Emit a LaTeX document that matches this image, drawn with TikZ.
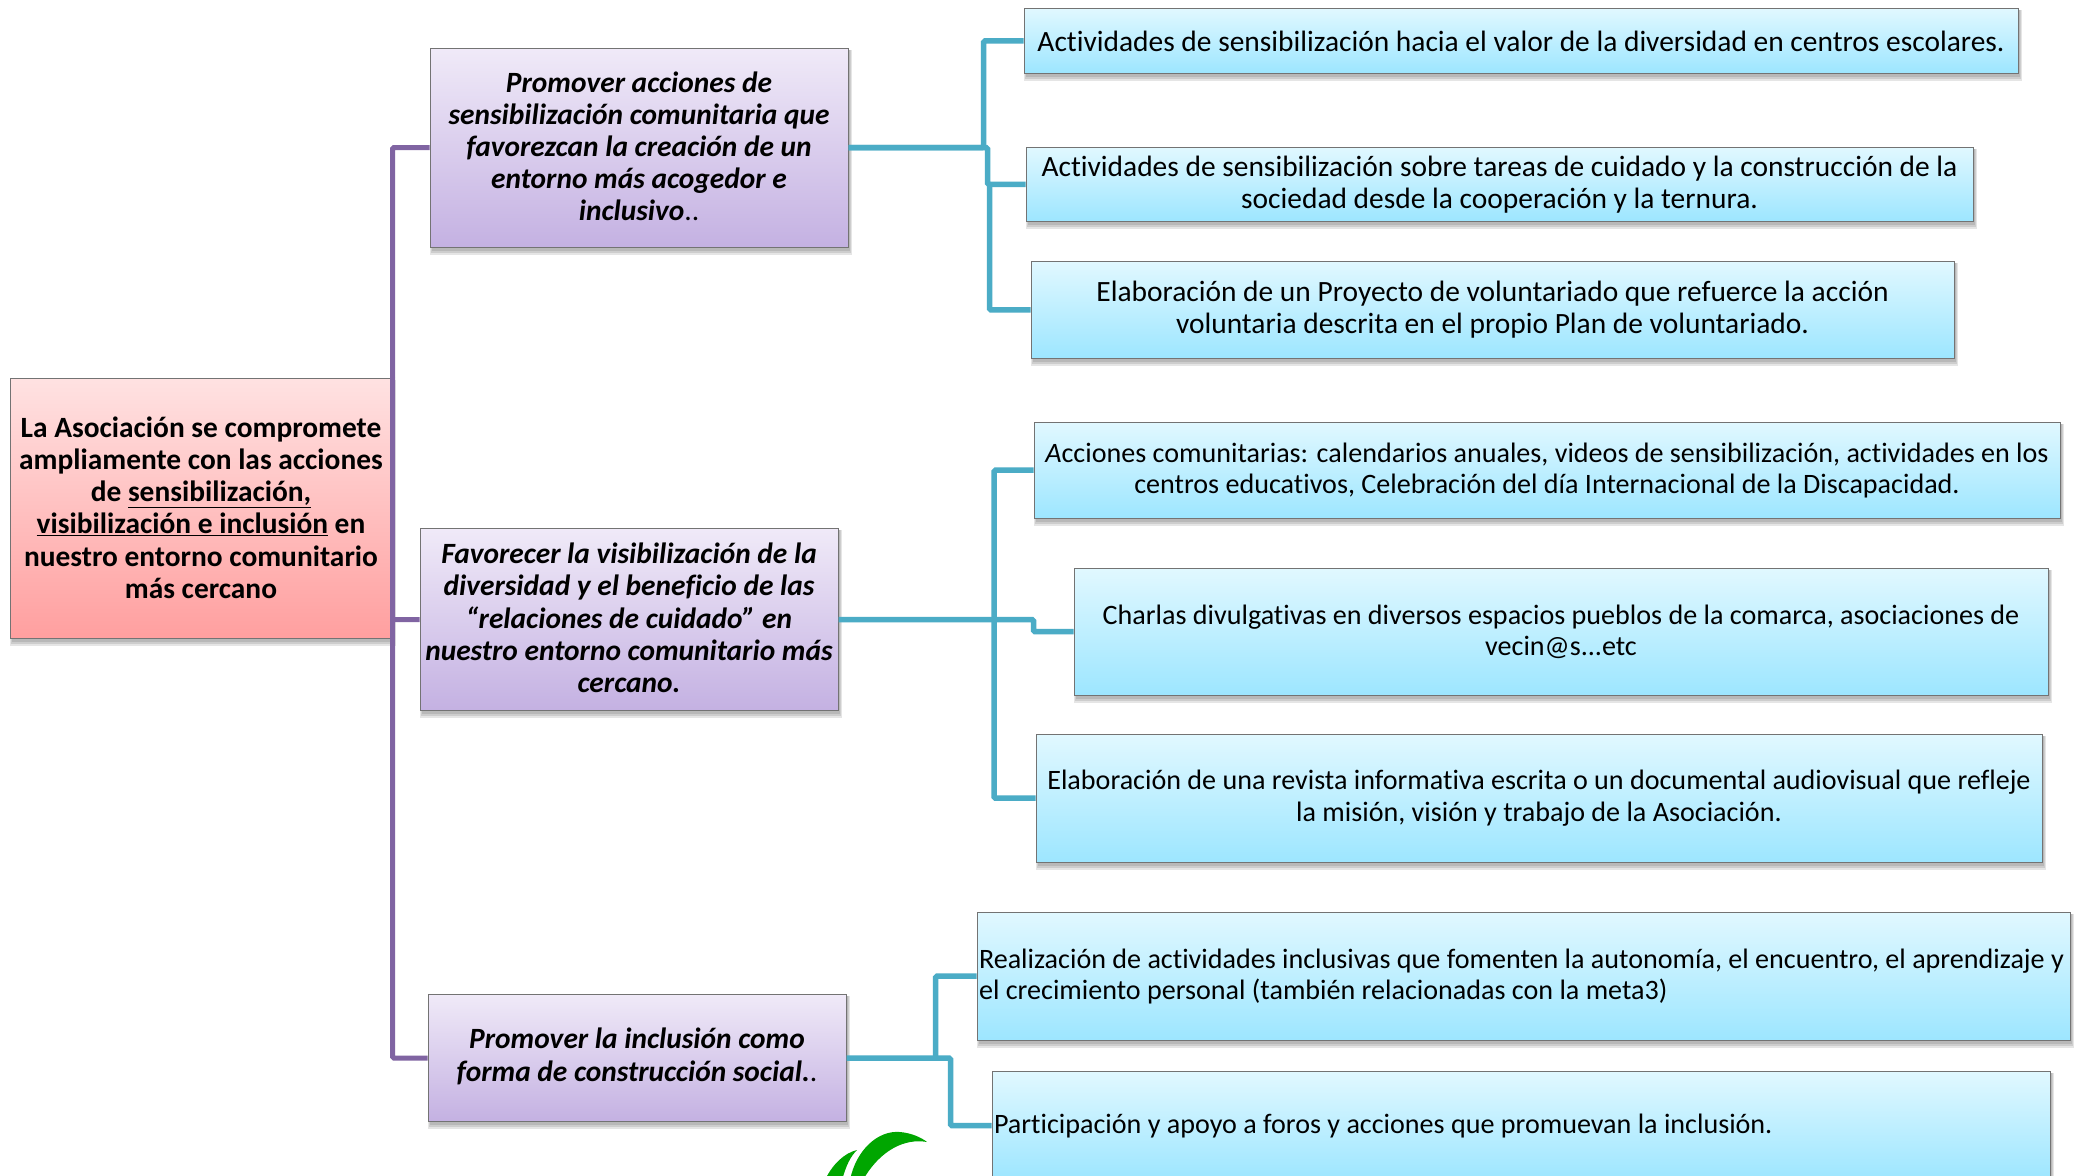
\documentclass[tikz,border=0pt]{standalone}
\usepackage{fontspec}
\setmainfont[Ligatures={NoCommon}]{Carlito}
\usetikzlibrary{calc}
\definecolor{purpleline}{HTML}{8064A2}
\definecolor{tealline}{HTML}{4BACC6}
\definecolor{roottop}{HTML}{FFE2E2}
\definecolor{rootbot}{HTML}{FF9F9F}
\definecolor{goaltop}{HTML}{F0EAF8}
\definecolor{goalbot}{HTML}{C4B1E2}
\definecolor{acttop}{HTML}{E1F8FF}
\definecolor{actbot}{HTML}{9DE6FF}
\tikzset{
  x=1pt,y=-1pt,
  boxbase/.style={rectangle,draw=black!55,line width=1pt,inner sep=0pt,text=black,align=center},
  rootbox/.style={boxbase,top color=roottop,bottom color=rootbot,font=\fontsize{29.4}{32.3}\selectfont\bfseries},
  goalbox/.style={boxbase,top color=goaltop,bottom color=goalbot,font=\fontsize{29.4}{32.2}\selectfont\bfseries\itshape},
  actbox/.style={boxbase,top color=acttop,bottom color=actbot,font=\fontsize{29.45}{32.4}\selectfont},
  actboxb/.style={actbox,font=\fontsize{28.1}{31.3}\selectfont},
  rootbox text/.style={yshift=0.4pt},
  goalbox text/.style={yshift=1.2pt},
  actbox text/.style={yshift=-0.4pt},
  actboxb text/.style={yshift=-0.2pt},
  purplelink/.style={draw=purpleline,line width=5pt,rounded corners=1.5pt},
  teallink/.style={draw=tealline,line width=5.5pt,rounded corners=1.5pt},
  shadowrect/.style={fill=black,opacity=.10,draw=none},
}
\newcommand{\mybox}[7]{% name, style, x1,y1,x2,y2, text
  \fill[shadowrect] (#3+0,#4+2) rectangle (#5+4,#6+8);
  \fill[shadowrect] (#3+1,#4+2) rectangle (#5+3,#6+6);
  \fill[shadowrect] (#3+2,#4+2) rectangle (#5+2,#6+4);
  \path[#2] (#3,#4) rectangle (#5,#6);
  \node[#2,draw=none,shade=false,fill=none,minimum width={(#5-#3)*1pt},minimum height={(#6-#4)*1pt},#2 text] (#1) at ({(#3+#5)/2},{(#4+#6)/2}) {#7};
}
\begin{document}
\begin{tikzpicture}
\useasboundingbox (0,0) rectangle (2087,1175);
\clip (0,0) rectangle (2087,1175);
\fill[white] (0,0) rectangle (2087,1175);
% logo
\fill[green!65!black] (850,1180) .. controls (856,1150) and (878,1130) .. (900,1132) .. controls (912,1133) and (922,1138) .. (927,1142) .. controls (905,1138) and (880,1150) .. (863,1180) -- cycle;
\fill[green!65!black] (825,1180) .. controls (832,1165) and (844,1153) .. (857,1150) .. controls (850,1157) and (846,1166) .. (842,1180) -- cycle;
% boxes
\mybox{root}{rootbox}{10}{378}{392}{638}{La Asociación se compromete\\ampliamente con las acciones\\de \underline{sensibilización,}\\\underline{visibilización e inclusión} en\\nuestro entorno comunitario\\más cercano}
\mybox{g1}{goalbox}{430}{48}{848}{247}{Promover acciones de\\sensibilización comunitaria que\\favorezcan la creación de un\\entorno más acogedor e\\inclusivo{\normalfont..}}
\mybox{g2}{goalbox}{420}{528}{838}{710}{Favorecer la visibilización de la\\diversidad y el beneficio de las\\“relaciones de cuidado” en\\nuestro entorno comunitario más\\cercano.}
\mybox{g3}{goalbox}{428}{994}{846}{1121}{Promover la inclusión como\\forma de construcción social.{\normalfont.}}
\mybox{a1}{actbox}{1024}{8}{2018}{73}{Actividades de sensibilización hacia el valor de la diversidad en centros escolares.}
\mybox{a2}{actbox}{1026}{147}{1973}{221}{Actividades de sensibilización sobre tareas de cuidado y la construcción de la\\sociedad desde la cooperación y la ternura.}
\mybox{a3}{actbox}{1031}{261}{1954}{358}{Elaboración de un Proyecto de voluntariado que refuerce la acción\\voluntaria descrita en el propio Plan de voluntariado.}
\mybox{a4}{actboxb}{1034}{422}{2060}{518}{\textit{A}cciones comunitarias: calendarios anuales, videos de sensibilización, actividades en los\\centros educativos, Celebración del día Internacional de la Discapacidad.}
\mybox{a5}{actboxb}{1074}{568}{2048}{695}{Charlas divulgativas en diversos espacios pueblos de la comarca, asociaciones de\\vecin@s...etc}
\mybox{a6}{actboxb}{1036}{734}{2042}{862}{Elaboración de una revista informativa escrita o un documental audiovisual que refleje\\la misión, visión y trabajo de la Asociación.}
\mybox{a7}{actboxb}{977}{912}{2070}{1040}{\makebox[1089pt][l]{Realización de actividades inclusivas que fomenten la autonomía, el encuentro, el aprendizaje y}\\\makebox[1089pt][l]{el crecimiento personal (también relacionadas con la meta3)}}
\mybox{a8}{actboxb}{992}{1071}{2050}{1180}{\makebox[1054pt][l]{Participación y apoyo a foros y acciones que promuevan la inclusión.}}
% connectors
\coordinate (p1) at (g1.west|-0,147.5);
\coordinate (p2) at (g2.west|-0,619.5);
\coordinate (p3) at (g3.west|-0,1058);
\coordinate (q1) at (g1.east|-0,147.5);
\coordinate (q2) at (g2.east|-0,619.5);
\coordinate (q3) at (g3.east|-0,1058);
\draw[purplelink] (p1) -| (root.north east);
\draw[purplelink] (root.north east) |- (p2);
\draw[purplelink] (p3) -| ($(root.north east)+(0,240)$);
\draw[teallink] (q1) -- ++(135,0) |- (a1.west);
\draw[teallink] (q1) -- ++(139,0) |- (a2.west);
\draw[teallink] ($(q1)+(141,37)$) |- (a3.west);
\draw[teallink] (q2) -- ++(195,0) |- (a5.west);
\coordinate (t2) at ($(q2)+(155.5,0)$);
\draw[teallink] (a4.west) -| (t2) |- (a6.west);
\draw[teallink] (q3) -- ++(104,0) |- (a8.west);
\draw[teallink] ($(q3)+(89,0)$) |- (a7.west);
\end{tikzpicture}
\end{document}
